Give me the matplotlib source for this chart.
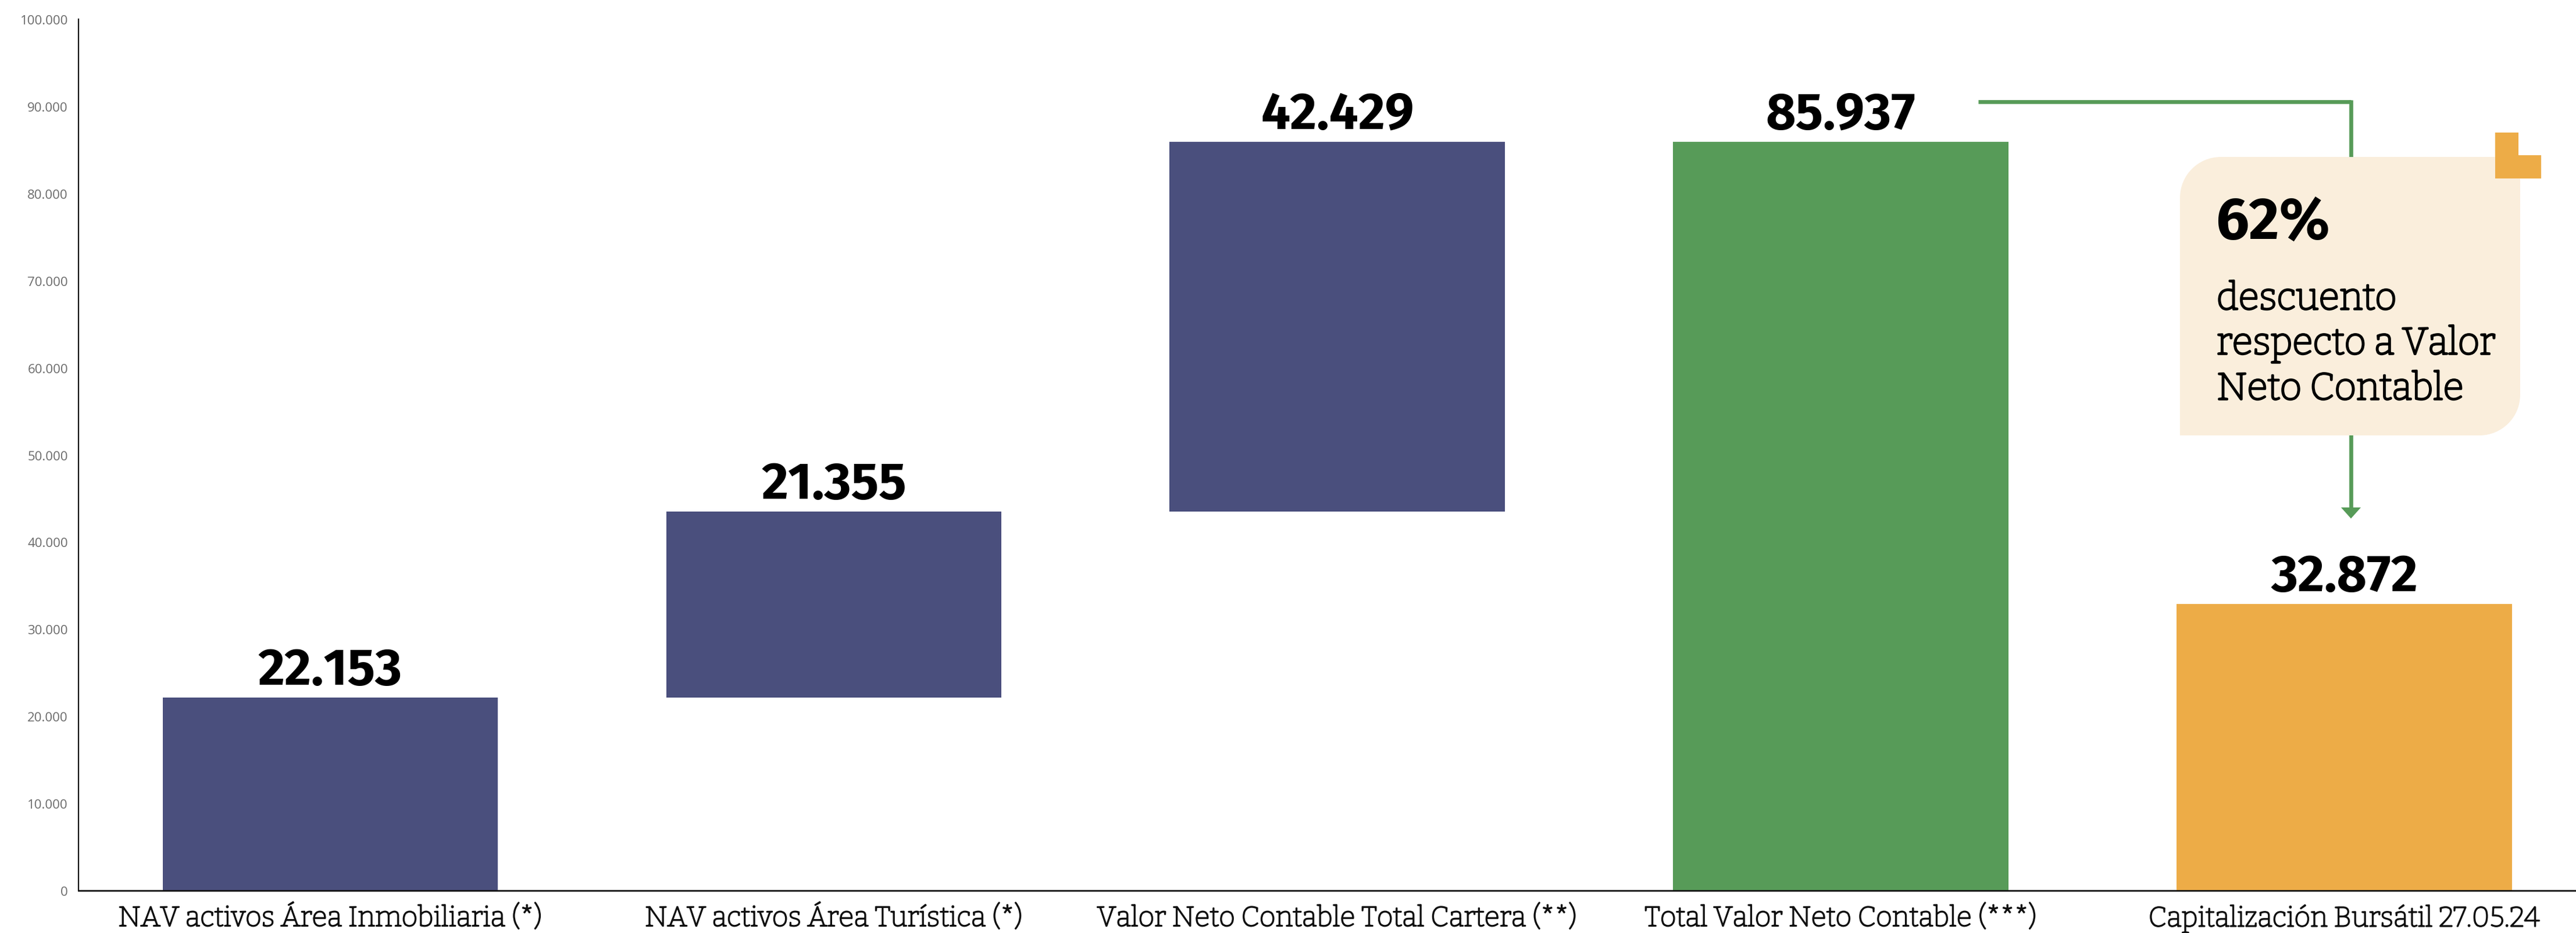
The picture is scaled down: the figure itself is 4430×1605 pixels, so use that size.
import matplotlib
matplotlib.use("Agg")
import matplotlib.pyplot as plt
from matplotlib import font_manager as fm
from matplotlib import patheffects as pe
from matplotlib.patches import Polygon, PathPatch
from matplotlib.path import Path
import numpy as np

# ---------------- data ----------------
categories = [
    "NAV activos Área Inmobiliaria (*)",
    "NAV activos Área Turística (*)",
    "Valor Neto Contable Total Cartera (**)",
    "Total Valor Neto Contable (***)",
    "Capitalización Bursátil 27.05.24",
]
values = [22153, 21355, 42429, 85937, 32872]
bases = [0, 22153, 43508, 0, 0]
value_labels = ["22.153", "21.355", "42.429", "85.937", "32.872"]
bar_colors = ["#4A4F7D", "#4A4F7D", "#4A4F7D", "#579B58", "#EDAC47"]
yticks = [0, 10000, 20000, 30000, 40000, 50000, 60000, 70000, 80000, 90000, 100000]
ytick_labels = ["0", "10.000", "20.000", "30.000", "40.000", "50.000",
                "60.000", "70.000", "80.000", "90.000", "100.000"]
callout_pct = "62%"
callout_lines = ["descuento", "respecto a Valor", "Neto Contable"]

# ---------------- fonts ----------------
available = {f.name for f in fm.fontManager.ttflist}
def pick(*names):
    for n in names:
        if n in available:
            return n
    return "DejaVu Sans"

serif_font = pick("Bitter", "Roboto Slab", "Zilla Slab", "DejaVu Serif")
bold_font = pick("Fira Sans", "Open Sans", "DejaVu Sans")
tick_font = pick("Open Sans", "Noto Sans", "DejaVu Sans")

W, H = 4430, 1606
DPI = 100
fig = plt.figure(figsize=(W / DPI, H / DPI), dpi=DPI)
fig.patch.set_facecolor("white")

def fx(px):
    return px / W
def fy(py):
    return 1 - py / H

ax_left, ax_bottom_px, ax_top_px = 135, 1533, 34
ax = fig.add_axes([fx(ax_left), fy(ax_bottom_px), 1 - fx(ax_left), (ax_bottom_px - ax_top_px) / H])

x = np.arange(len(categories))
ax.bar(x, values, bottom=bases, width=0.666, color=bar_colors, zorder=2)
ax.set_xlim(-0.5, 4.46)
ax.set_ylim(0, 100000)

for spine in ["top", "right"]:
    ax.spines[spine].set_visible(False)
ax.spines["left"].set_linewidth(1.6)
ax.spines["bottom"].set_linewidth(2.0)
ax.spines["left"].set_color("#111111")
ax.spines["bottom"].set_color("#111111")

ax.set_yticks(yticks)
ax.set_yticklabels(ytick_labels, fontsize=16, color="#6b6b6b", family=tick_font)
ax.tick_params(axis="y", length=0, pad=13)
ax.set_xticks(x)
ax.set_xticklabels(categories, fontsize=34.5, color="#111111", family=serif_font)
ax.tick_params(axis="x", length=0, pad=18)
for t in ax.get_xticklabels():
    t.set_path_effects([pe.withStroke(linewidth=1.7, foreground="#111111")])

for xi, v, b, lab in zip(x, values, bases, value_labels):
    ax.annotate(lab, (xi, v + b), xytext=(0, 16.5), textcoords="offset points",
                ha="center", va="baseline", fontsize=64, fontweight="bold",
                family=bold_font, color="#000000")

# ---------------- callout ----------------
green = "#579B58"
x0_px, yline_px, xv_px, tip_px = 3402, 176, 4043, 893
lw_pt = 6.7 * 72 / DPI
fig.add_artist(plt.Line2D([fx(x0_px), fx(xv_px)], [fy(yline_px), fy(yline_px)],
                          color=green, lw=lw_pt, solid_capstyle="butt", transform=fig.transFigure, zorder=3))
fig.add_artist(plt.Line2D([fx(xv_px), fx(xv_px)], [fy(yline_px - 3.3), fy(tip_px - 16)],
                          color=green, lw=lw_pt, solid_capstyle="butt", transform=fig.transFigure, zorder=3))
head = Polygon([[fx(xv_px - 17), fy(tip_px - 19)], [fx(xv_px + 17), fy(tip_px - 19)], [fx(xv_px), fy(tip_px)]],
               closed=True, facecolor=green, edgecolor="none", transform=fig.transFigure, zorder=3)
fig.add_artist(head)

bx0, bx1, by0, by1 = 3749, 4334, 271, 750
r = 70
k = 0.5523
verts = [
    (bx0 + r, by0), (bx1, by0), (bx1, by1 - r),
    (bx1, by1 - r + k * r), (bx1 - r + k * r, by1), (bx1 - r, by1),
    (bx0, by1), (bx0, by0 + r),
    (bx0, by0 + r - k * r), (bx0 + r - k * r, by0), (bx0 + r, by0),
    (bx0 + r, by0),
]
codes = [Path.MOVETO, Path.LINETO, Path.LINETO,
         Path.CURVE4, Path.CURVE4, Path.CURVE4,
         Path.LINETO, Path.LINETO,
         Path.CURVE4, Path.CURVE4, Path.CURVE4,
         Path.CLOSEPOLY]
verts_f = [(fx(a), fy(b)) for a, b in verts]
box = PathPatch(Path(verts_f, codes), facecolor="#FAEEDC", edgecolor="none",
                transform=fig.transFigure, zorder=4)
fig.add_artist(box)

L = [(4291, 229), (4331, 229), (4331, 268), (4370, 268), (4370, 308), (4291, 308)]
fig.add_artist(Polygon([(fx(a), fy(b)) for a, b in L], closed=True, facecolor="#EDAC47",
                       edgecolor="none", transform=fig.transFigure, zorder=5))

fig.text(fx(3810), fy(412), callout_pct, fontsize=73, fontweight="bold", family=bold_font,
         color="#000000", ha="left", va="baseline", zorder=6)
for line, base in zip(callout_lines, [533, 610, 688]):
    fig.text(fx(3812), fy(base), line, fontsize=46.5, family=serif_font, color="#000000",
             ha="left", va="baseline", zorder=6,
             path_effects=[pe.withStroke(linewidth=2.6, foreground="#000000")])

fig.savefig("out.png", dpi=DPI, facecolor="white")
